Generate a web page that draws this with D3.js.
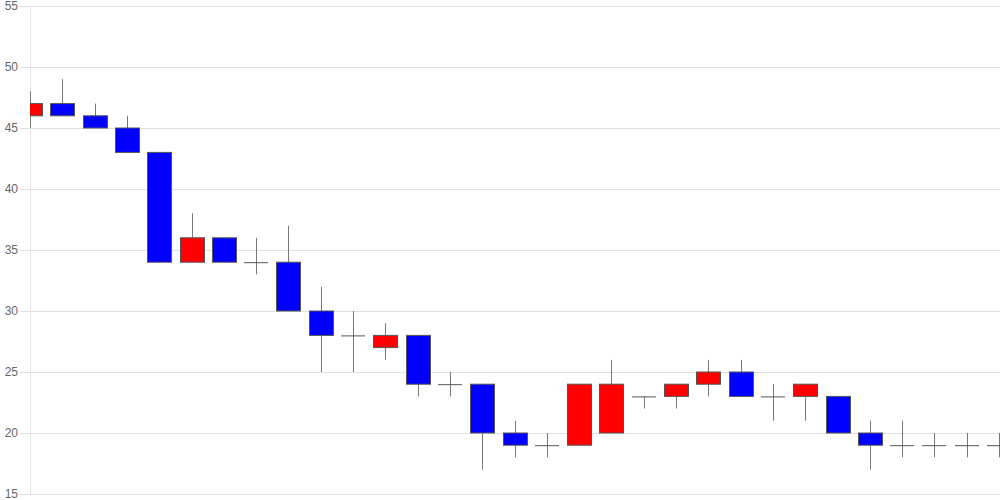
<!DOCTYPE html>
<html><head><meta charset="utf-8">
<script src="https://cdn.jsdelivr.net/npm/d3@7"></script>
<style>body{margin:0;background:#fff}svg{display:block}</style>
</head><body>
<svg id="c" width="1000" height="500"></svg>
<script>
const days = d3.range(1, 32);
const open  = [46,47,46,45,43,34,36,34,34,30,28,27,28,24,24,20,19,19,20,23,23,24,25,23,23,23,20,19,19,19,19];
const high  = [48,49,47,46,43,38,36,36,37,32,30,29,28,25,24,21,20,24,26,23,24,26,26,24,24,23,21,21,20,20,20];
const low   = [45,46,45,43,34,34,34,33,30,25,25,26,23,23,17,18,18,19,20,22,22,23,23,21,21,20,17,18,18,18,18];
const close = [47,46,45,43,34,36,34,34,30,28,28,28,24,24,20,19,19,24,24,23,24,25,23,23,24,20,19,19,19,19,19];
const yTicks = [15,20,25,30,35,40,45,50,55];

const svg = d3.select('#c');
const L = 30, R = 1000, T = 6, B = 494;
const x = d3.scalePoint().domain(days).range([L, R - 1]);
const y = d3.scaleLinear().domain([15, 55]).range([B, T]);

svg.append('defs').append('clipPath').attr('id','clip')
  .append('rect').attr('x', L).attr('y', 0).attr('width', R - L).attr('height', 500);

const ax = svg.append('g').attr('transform', `translate(${L},0)`)
  .call(d3.axisLeft(y).tickValues(yTicks).tickSize(10).tickPadding(2).tickSizeOuter(0));
ax.select('.domain').remove();
ax.selectAll('.tick line').attr('stroke', '#e0e0e0');
ax.selectAll('.tick text').attr('fill', '#666').attr('font-size', 12)
  .attr('font-family', 'Liberation Sans, Arial, sans-serif');

svg.append('g').selectAll('line').data(yTicks).join('line')
  .attr('x1', L).attr('x2', R).attr('y1', d => y(d) + 0.5).attr('y2', d => y(d) + 0.5)
  .attr('stroke', '#e0e0e0');
svg.append('line').attr('x1', L + 0.5).attr('x2', L + 0.5).attr('y1', T).attr('y2', B)
  .attr('stroke', '#e6e6e6');

const g = svg.append('g').attr('clip-path', 'url(#clip)');
const bw = 24;
const idx = d3.range(days.length);
g.selectAll('.wick').data(idx).join('line')
  .attr('x1', i => Math.round(x(days[i])) + 0.5).attr('x2', i => Math.round(x(days[i])) + 0.5)
  .attr('y1', i => y(high[i])).attr('y2', i => y(low[i]))
  .attr('stroke', '#777').attr('stroke-width', 1);
g.selectAll('.body').data(idx.filter(i => open[i] !== close[i])).join('rect')
  .attr('x', i => Math.round(x(days[i]) - bw / 2) + 0.5)
  .attr('y', i => y(Math.max(open[i], close[i])))
  .attr('width', bw)
  .attr('height', i => Math.abs(y(open[i]) - y(close[i])))
  .attr('fill', i => close[i] > open[i] ? '#ff0000' : '#0000ff')
  .attr('stroke', '#555').attr('stroke-width', 1);
g.selectAll('.doji').data(idx.filter(i => open[i] === close[i])).join('line')
  .attr('x1', i => Math.round(x(days[i]) - bw / 2)).attr('x2', i => Math.round(x(days[i]) + bw / 2))
  .attr('y1', i => y(open[i]) + 0.5).attr('y2', i => y(open[i]) + 0.5)
  .attr('stroke', '#555').attr('stroke-width', 1);
</script>
</body></html>
